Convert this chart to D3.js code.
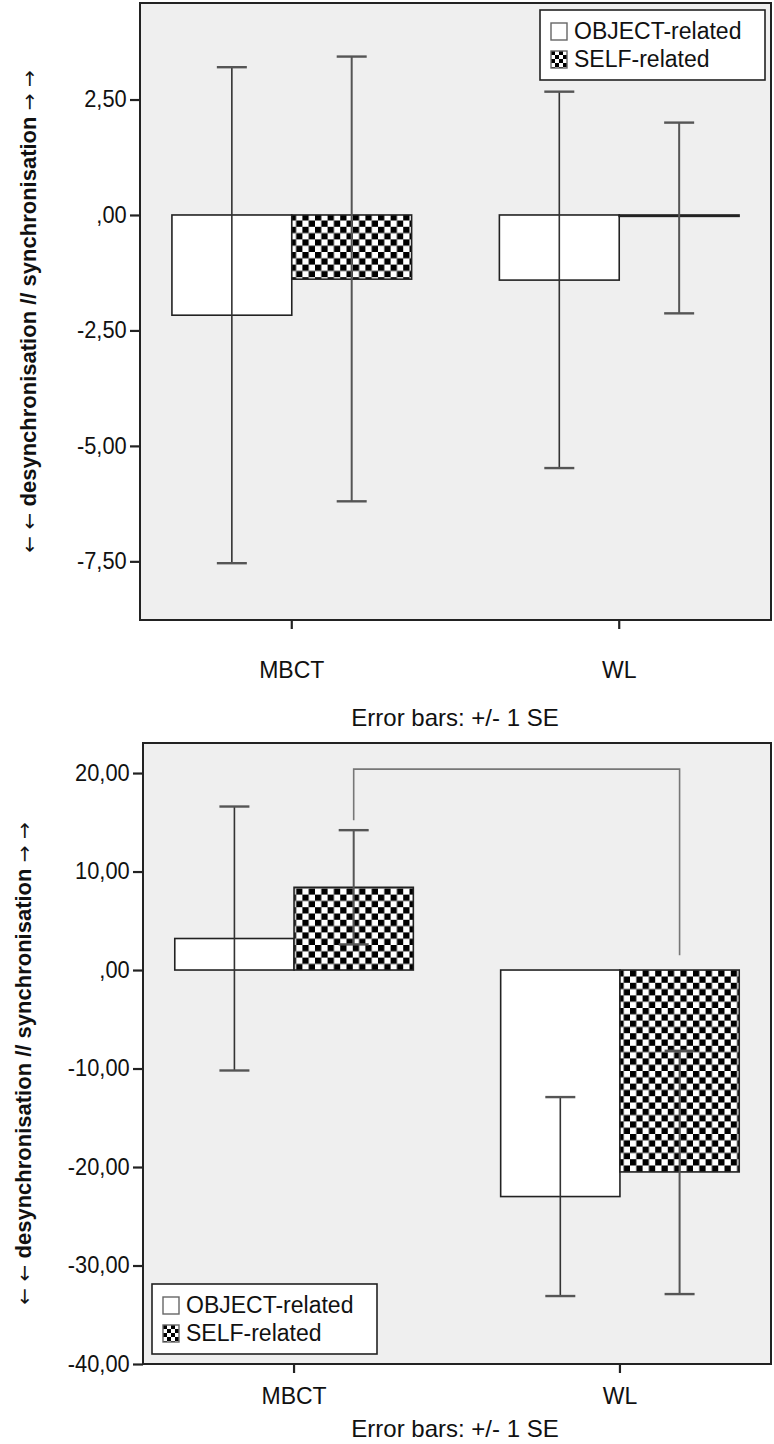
<!DOCTYPE html>
<html>
<head>
<meta charset="utf-8">
<script src="https://d3js.org/d3.v7.min.js"></script>
<style>
  html, body { margin: 0; padding: 0; background: #fff; }
  svg { display: block; }
  text { font-family: "Liberation Sans", Arial, sans-serif; fill: #111; }
</style>
</head>
<body>
<svg id="chart" width="774" height="1444"></svg>
<script>
// ---------- data ----------
const groups = ["MBCT", "WL"];
const series = ["OBJECT-related", "SELF-related"];

// top panel (values per group: [OBJECT, SELF])
const topMeans = [[-2.17, -1.39], [-1.41, -0.03]];
const topUpper = [[3.20, 3.43], [2.67, 2.00]];
const topLower = [[-7.54, -6.20], [-5.48, -2.13]];
const topTicks = [2.5, 0, -2.5, -5, -7.5];
const topDomain = [-8.77, 4.59];

// bottom panel
const botMeans = [[3.2, 8.4], [-23.0, -20.5]];
const botUpper = [[16.6, 14.2], [-12.9, -8.2]];
const botLower = [[-10.2, 2.6], [-33.1, -32.9]];
const botTicks = [20, 10, 0, -10, -20, -30, -40];
const botDomain = [-40, 23.05];

// significance bracket (bottom panel): [start value at MBCT SELF, top value, end value at WL SELF]
const bracketVals = [15.2, 20.4, 1.5];

const yTitleParts = ["\u2190 \u2190 ", "desynchronisation // synchronisation", " \u2192 \u2192"];
const xTitle = "Error bars: +/- 1 SE";

// ---------- drawing ----------
const svg = d3.select("#chart");
const defs = svg.append("defs");
const cell = 6.3;
const pat = defs.append("pattern").attr("id", "checker")
  .attr("patternUnits", "userSpaceOnUse")
  .attr("width", cell * 2).attr("height", cell * 2);
pat.append("rect").attr("width", cell * 2).attr("height", cell * 2).attr("fill", "#fff");
pat.append("rect").attr("x", 0).attr("y", 0).attr("width", cell).attr("height", cell).attr("fill", "#000");
pat.append("rect").attr("x", cell).attr("y", cell).attr("width", cell).attr("height", cell).attr("fill", "#000");

const sc = 4;
const patSmall = defs.append("pattern").attr("id", "checkerSmall")
  .attr("patternUnits", "userSpaceOnUse")
  .attr("width", sc * 2).attr("height", sc * 2);
patSmall.append("rect").attr("width", sc * 2).attr("height", sc * 2).attr("fill", "#fff");
patSmall.append("rect").attr("width", sc).attr("height", sc).attr("fill", "#000");
patSmall.append("rect").attr("x", sc).attr("y", sc).attr("width", sc).attr("height", sc).attr("fill", "#000");

const locale = d3.formatLocale({ decimal: ",", thousands: ".", grouping: [3], currency: ["", ""], minus: "-" });
const fmt = v => locale.format(".2f")(v).replace(/^(-?)0,/, "$1,");

function drawPanel(cfg) {
  const g = svg.append("g");
  const x = d3.scaleBand().domain(groups).range([cfg.left, cfg.right])
    .paddingInner(0.268).paddingOuter(0.0975);
  const xs = d3.scaleBand().domain(series).range([0, x.bandwidth()]);
  const y = d3.scaleLinear().domain(cfg.domain).range([cfg.bottom, cfg.top]);

  // plot background
  g.append("rect").attr("x", cfg.left).attr("y", cfg.top)
    .attr("width", cfg.right - cfg.left).attr("height", cfg.bottom - cfg.top)
    .attr("fill", "#efefef");

  // bars
  groups.forEach((grp, gi) => {
    series.forEach((s, si) => {
      const v = cfg.means[gi][si];
      const y0 = y(Math.max(0, v)), y1 = y(Math.min(0, v));
      g.append("rect")
        .attr("x", x(grp) + xs(s)).attr("y", y0)
        .attr("width", xs.bandwidth()).attr("height", Math.max(0.5, y1 - y0))
        .attr("fill", si === 0 ? "#fff" : "url(#checker)")
        .attr("stroke", "#222").attr("stroke-width", 1.6);
    });
  });

  // error bars
  groups.forEach((grp, gi) => {
    series.forEach((s, si) => {
      const cx = x(grp) + xs(s) + xs.bandwidth() / 2;
      const hi = y(cfg.upper[gi][si]), lo = y(cfg.lower[gi][si]);
      g.append("line").attr("x1", cx).attr("x2", cx).attr("y1", hi).attr("y2", lo)
        .attr("stroke", si === 0 ? "#333" : "#555").attr("stroke-width", si === 0 ? 1.6 : 2);
      [hi, lo].forEach(yy => {
        g.append("line").attr("x1", cx - 15).attr("x2", cx + 15).attr("y1", yy).attr("y2", yy)
          .attr("stroke", "#555").attr("stroke-width", 2.4);
      });
    });
  });

  // bracket
  if (cfg.bracket) {
    const xa = x("MBCT") + xs("SELF-related") + xs.bandwidth() / 2;
    const xb = x("WL") + xs("SELF-related") + xs.bandwidth() / 2;
    g.append("path")
      .attr("d", `M${xa},${y(cfg.bracket[0])}V${y(cfg.bracket[1])}H${xb}V${y(cfg.bracket[2])}`)
      .attr("fill", "none").attr("stroke", "#777").attr("stroke-width", 1.6);
  }

  // frame
  g.append("rect").attr("x", cfg.left).attr("y", cfg.top)
    .attr("width", cfg.right - cfg.left).attr("height", cfg.bottom - cfg.top)
    .attr("fill", "none").attr("stroke", "#222").attr("stroke-width", 2);

  // y axis
  const yAxis = d3.axisLeft(y).tickValues(cfg.ticks).tickFormat(fmt).tickSize(10).tickPadding(4);
  const ya = g.append("g").attr("transform", `translate(${cfg.left},0)`).call(yAxis);
  ya.select(".domain").remove();
  ya.selectAll(".tick line").attr("stroke", "#222").attr("stroke-width", 2.2);
  ya.selectAll(".tick text").attr("font-size", 23).attr("fill", "#111")
    .attr("font-family", "Liberation Sans, Arial, sans-serif")
    .attr("transform", "scale(0.95,1)");

  // x axis
  const xAxis = d3.axisBottom(x).tickSize(9).tickPadding(cfg.xPad);
  const xa = g.append("g").attr("transform", `translate(0,${cfg.bottom})`).call(xAxis);
  xa.select(".domain").remove();
  xa.selectAll(".tick line").attr("stroke", "#222").attr("stroke-width", 2.2);
  xa.selectAll(".tick text").attr("font-size", 23).attr("fill", "#111")
    .attr("font-family", "Liberation Sans, Arial, sans-serif");

  // x title
  g.append("text").attr("x", cfg.xTitleX).attr("y", cfg.xTitleY)
    .attr("text-anchor", "middle").attr("font-size", 24).text(xTitle);

  // y title
  const yt = g.append("text")
    .attr("transform", `translate(${cfg.yTitleX},${(cfg.top + cfg.bottom) / 2 + cfg.yTitleDy}) rotate(-90)`)
    .attr("text-anchor", "middle").attr("font-size", 22).attr("font-weight", "bold");
  yTitleParts.forEach((p, i) => {
    const ts = yt.append("tspan").text(p);
    if (i !== 1) ts.attr("font-family", "DejaVu Sans, sans-serif").attr("font-weight", "normal").attr("font-size", 20);
  });

  // legend
  const lg = g.append("g").attr("transform", `translate(${cfg.legend[0]},${cfg.legend[1]})`);
  lg.append("rect").attr("width", 225).attr("height", 70)
    .attr("fill", "#fff").attr("stroke", "#222").attr("stroke-width", 1.6);
  series.forEach((s, si) => {
    const row = lg.append("g").attr("transform", `translate(11,${13 + si * 28})`);
    row.append("rect").attr("width", 16).attr("height", 17)
      .attr("fill", si === 0 ? "#fff" : "url(#checkerSmall)")
      .attr("stroke", "#666").attr("stroke-width", 1.4);
    row.append("text").attr("x", 23).attr("y", 16).attr("font-size", 23).text(s);
  });
}

drawPanel({
  left: 140, right: 771, top: 3, bottom: 620,
  domain: topDomain, ticks: topTicks,
  means: topMeans, upper: topUpper, lower: topLower,
  xPad: 33, xTitleX: 455, xTitleY: 726, yTitleX: 36, yTitleDy: 0,
  legend: [540, 10], bracket: null
});

drawPanel({
  left: 143, right: 771, top: 743, bottom: 1364,
  domain: botDomain, ticks: botTicks,
  means: botMeans, upper: botUpper, lower: botLower,
  xPad: 15, xTitleX: 455, xTitleY: 1437, yTitleX: 31, yTitleDy: 10,
  legend: [152, 1284], bracket: bracketVals
});
</script>
</body>
</html>
